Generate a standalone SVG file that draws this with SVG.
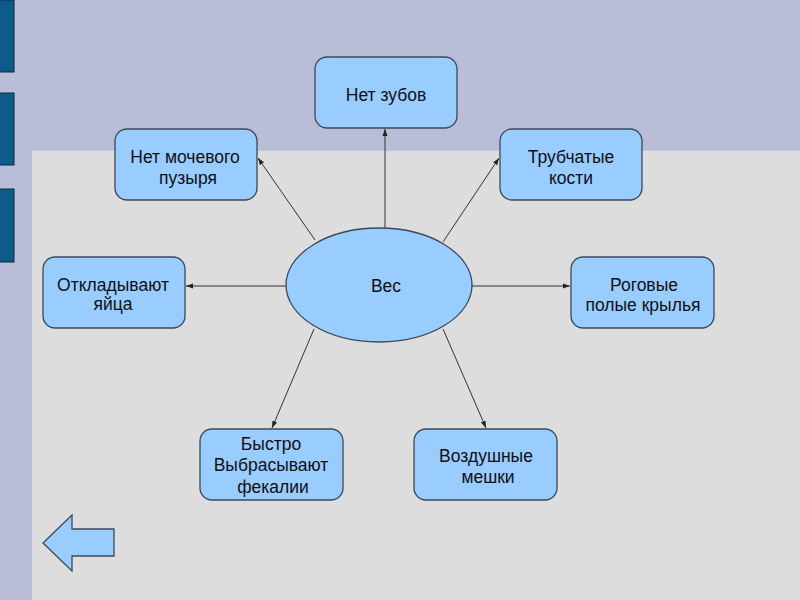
<svg xmlns="http://www.w3.org/2000/svg" width="800" height="600" viewBox="0 0 800 600">
<style>
.n{fill:#99ccff;stroke:#3a4a5a;stroke-width:1.3}
.t{font-family:"Liberation Sans",Arial,sans-serif;font-size:17.5px;fill:#111;text-anchor:middle}
.c{stroke:#333;stroke-width:1;fill:none;marker-end:url(#a)}
.bar{fill:#0e5a8a;stroke:#0a2a40;stroke-width:1}
</style>
<defs>
<marker id="a" markerWidth="8" markerHeight="8" refX="7" refY="4" orient="auto" markerUnits="userSpaceOnUse">
<path d="M0,1.5 L7,4 L0,6.5 Z" fill="#222"/>
</marker>
</defs>
<rect width="800" height="600" fill="#babdd8"/>
<rect x="32" y="150" width="768" height="450" fill="#dddddd"/>
<line x1="32" y1="150.5" x2="800" y2="150.5" stroke="#c8c8cc" stroke-width="1"/>
<rect class="bar" x="-1" y="0" width="15" height="72"/>
<rect class="bar" x="-1" y="93" width="15" height="72"/>
<rect class="bar" x="-1" y="189" width="15" height="73"/>
<g id="connectors">
<line class="c" x1="385" y1="228" x2="385" y2="129"/>
<line class="c" x1="315" y1="240" x2="258" y2="158"/>
<line class="c" x1="443" y1="242" x2="499" y2="158"/>
<line class="c" x1="286" y1="286" x2="186" y2="286"/>
<line class="c" x1="472" y1="286" x2="570" y2="286"/>
<line class="c" x1="314" y1="329" x2="272" y2="428"/>
<line class="c" x1="443" y1="329" x2="486" y2="428"/>
</g>
<g id="center">
<ellipse class="n" cx="379" cy="285" rx="93" ry="57"/>
<text class="t" x="386" y="292">Вес</text>
</g>
<g id="n1">
<rect class="n" x="315" y="57" width="142" height="71" rx="12"/>
<text class="t" x="386" y="101">Нет зубов</text>
</g>
<g id="n2">
<rect class="n" x="115" y="129" width="142" height="71" rx="12"/>
<text class="t" x="185" y="163">Нет мочевого</text>
<text class="t" x="188" y="184">пузыря</text>
</g>
<g id="n3">
<rect class="n" x="500" y="129" width="142" height="71" rx="12"/>
<text class="t" x="571" y="163">Трубчатые</text>
<text class="t" x="571" y="184">кости</text>
</g>
<g id="n4">
<rect class="n" x="43" y="257" width="142" height="71" rx="12"/>
<text class="t" x="113" y="291">Откладывают</text>
<text class="t" x="113" y="310">яйца</text>
</g>
<g id="n5">
<rect class="n" x="571" y="257" width="143" height="71" rx="12"/>
<text class="t" x="644" y="291">Роговые</text>
<text class="t" x="643" y="311">полые крылья</text>
</g>
<g id="n6">
<rect class="n" x="200" y="429" width="143" height="71" rx="12"/>
<text class="t" x="271" y="450">Быстро</text>
<text class="t" x="271" y="471">Выбрасывают</text>
<text class="t" x="273" y="493">фекалии</text>
</g>
<g id="n7">
<rect class="n" x="414" y="429" width="143" height="71" rx="12"/>
<text class="t" x="486" y="462">Воздушные</text>
<text class="t" x="488" y="483">мешки</text>
</g>
<g id="back">
<polygon class="n" points="43,543 72,515 72,529 114,529 114,556 72,556 72,571"/>
</g>
</svg>
